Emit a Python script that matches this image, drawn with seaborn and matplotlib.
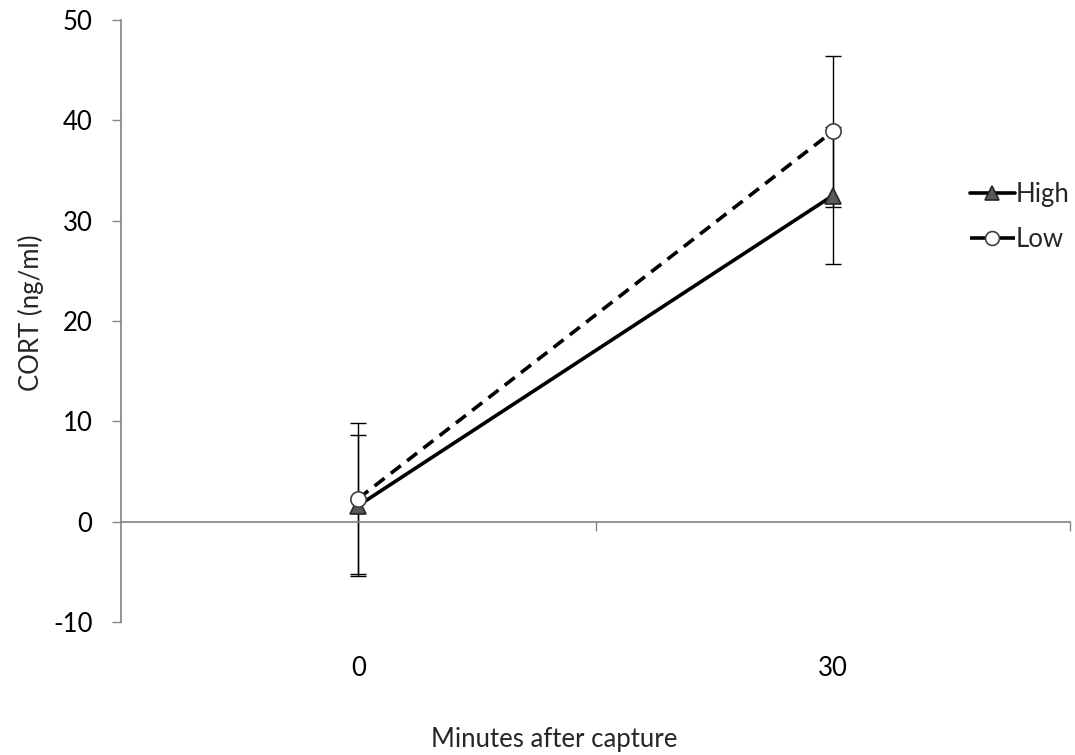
import matplotlib
matplotlib.use("Agg")
import matplotlib.pyplot as plt
import matplotlib.transforms as mtransforms
import seaborn as sns
import pandas as pd

# values
minutes = ["0", "30"]
groups = ["High", "Low"]
high_mean = [1.6, 32.5]
high_err = [7.0, 6.8]
low_mean = [2.3, 38.9]
low_err = [7.5, 7.5]

sns.set_theme(style="white")
plt.rcParams["font.family"] = ["Lato", "DejaVu Sans"]
plt.rcParams["axes.unicode_minus"] = False

FS = 18.5

df = pd.DataFrame({
    "pos": [0, 1, 0, 1],
    "cort": high_mean + low_mean,
    "err": high_err + low_err,
    "group": [groups[0]] * 2 + [groups[1]] * 2,
})

fig = plt.figure(figsize=(10.75, 7.55), dpi=100)
ax = fig.add_axes([121 / 1075, 1 - 622 / 755, (1070 - 121) / 1075, (622 - 20) / 755])

styles = {
    "High": dict(ls="-", marker="^", mfc="#595959", mec="#262626"),
    "Low": dict(ls="--", marker="o", mfc="white", mec="#404040"),
}

# error bars first so the markers sit on top
for g in groups:
    sub = df[df["group"] == g]
    ax.errorbar(sub["pos"], sub["cort"], yerr=sub["err"], fmt="none",
                ecolor="black", elinewidth=1.0, capsize=6, capthick=1.0, zorder=2)

sns.lineplot(data=df, x="pos", y="cort", hue="group", style="group",
             palette={"High": "black", "Low": "black"},
             dashes={"High": "", "Low": (3.5, 2.2)},
             markers={"High": "^", "Low": "o"},
             linewidth=2.6, markersize=11, legend=False, ax=ax, zorder=3)

for line, g in zip(ax.get_lines()[-2:], groups):
    line.set_markerfacecolor(styles[g]["mfc"])
    line.set_markeredgecolor(styles[g]["mec"])
    line.set_markeredgewidth(1.2)

ax.set_xlim(-0.5, 1.5)
ax.set_ylim(-10, 50)
ax.set_yticks(range(-10, 51, 10))
ax.set_xticks([0.5, 1.5])
ax.set_xticklabels([])

grey = "#868686"
for s in ["top", "right"]:
    ax.spines[s].set_visible(False)
ax.spines["left"].set_color(grey)
ax.spines["bottom"].set_color(grey)
ax.spines["bottom"].set_position(("data", 0))
ax.tick_params(axis="y", left=True, direction="out", length=6.5, color=grey, width=1,
               labelsize=FS, pad=14, labelcolor="black")
ax.tick_params(axis="x", bottom=True, direction="out", length=6.5, color=grey, width=1)
ax.set_xlabel("")
ax.set_ylabel("")

fig.text(31 / 1075, 1 - 313 / 755, "CORT (ng/ml)", rotation=90, ha="center",
         va="center", fontsize=FS)

trans = mtransforms.blended_transform_factory(ax.transData, fig.transFigure)
for i, lab in enumerate(minutes):
    ax.text(i, 1 - 668 / 755, lab, transform=trans, ha="center", va="center",
            fontsize=FS, color="black")

fig.text(554 / 1075, 1 - 740 / 755, "Minutes after capture", ha="center",
         va="center", fontsize=FS)

handles = []
for g in groups:
    st = styles[g]
    h, = ax.plot([], [], color="black", lw=2.6, marker=st["marker"],
                 mfc=st["mfc"], mec=st["mec"], markersize=10, mew=1.2,
                 ls=st["ls"], dashes=(5.5, 2) if g == "Low" else (None, None))
    handles.append(h)
leg = fig.legend(handles, groups, loc="center right",
                 bbox_to_anchor=(1070 / 1075, 1 - 217 / 755), frameon=False,
                 fontsize=FS, handlelength=1.75, handletextpad=0.05,
                 labelspacing=0.75, borderpad=0, borderaxespad=0)

fig.savefig("out.png", dpi=100, facecolor="white")
